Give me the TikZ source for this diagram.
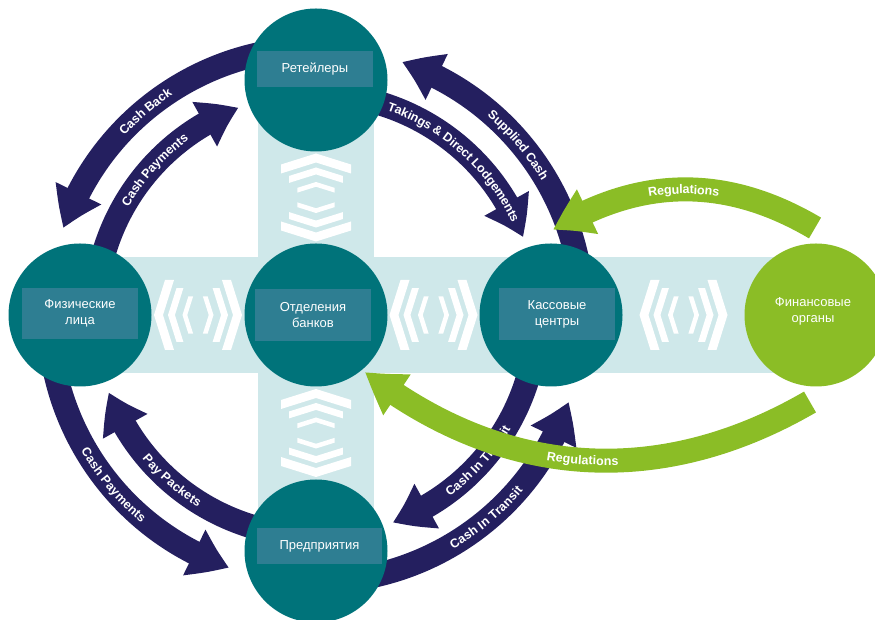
\documentclass[tikz,border=0pt]{standalone}
\usepackage{fontspec}
\setmainfont{Liberation Sans}
\usetikzlibrary{arrows.meta,bending,calc,backgrounds,decorations.text}

\definecolor{hubteal}{HTML}{00737A}
\definecolor{lbltile}{HTML}{2E7E92}
\definecolor{bandblue}{HTML}{CFE8EA}
\definecolor{flownavy}{HTML}{241F5F}
\definecolor{reggreen}{HTML}{8BBD26}

\tikzset{
  hub/.style={circle, fill=hubteal, minimum size=143pt, inner sep=0pt},
  tile/.style={fill=lbltile, text=white, minimum width=116pt, inner sep=0pt,
    align=center, font=\fontsize{13}{16}\selectfont},
  flow/.style={flownavy, line width=24pt, -{Triangle[width=48pt,length=38pt,bend]}},
  reg/.style={reggreen, line width=24pt, -{Triangle[width=46pt,length=40pt,bend]}},
  flowtext/.style={decorate, decoration={text along path, text align=center,
    raise=-4.5pt, text color=white, text={|\bfseries\fontsize{12.5}{14}\selectfont|#1}}},
  chev/.pic={\fill[white] (0,0) -- (-11,35) -- (-20,35) -- (-9,0) -- (-20,-35) -- (-11,-35) -- cycle;}
}

\begin{document}
\begin{tikzpicture}[x=1pt,y=1pt]
  \useasboundingbox (0,0) rectangle (875,620);

  % circles
  \node[hub] (retail) at (316,540) {};
  \node[hub] (persons) at (80,305) {};
  \node[hub] (bank) at (316,305) {};
  \node[hub] (cash) at (551,305) {};
  \node[hub, fill=reggreen] (fin) at (816,305) {};
  \node[hub] (firms) at (316,69) {};

  % labels
  \node[tile, minimum height=36pt] (retaillbl) at ([shift={(-1,11)}]retail.center) {Ретейлеры};
  \node[tile, minimum height=51pt] (personslbl) at ([shift={(0,1.5)}]persons.center) {Физические\\лица};
  \node[tile, minimum height=52pt] (banklbl) at ([shift={(-3,0)}]bank.center) {Отделения\\банков};
  \node[tile, minimum height=52pt] (cashlbl) at ([shift={(6,1)}]cash.center) {Кассовые\\центры};
  \node[tile, minimum height=36pt, minimum width=125pt] (firmslbl) at ([shift={(3.5,5)}]firms.center) {Предприятия};
  \node[text=white, align=center, font=\fontsize{13}{16}\selectfont] (finlbl) at ([shift={(-3,3.5)}]fin.center) {Финансовые\\органы};

  \begin{scope}[on background layer]
    % cross
    \fill[bandblue] ($(persons)+(0,-58)$) rectangle ($(fin)+(0,58)$);
    \fill[bandblue] ($(firms)+(-58,0)$) rectangle ($(retail)+(58,0)$);

    % chevrons
    \coordinate (gap1) at ($(persons)!0.5!(bank)$);
    \coordinate (gap2) at ($(bank)!0.5!(cash)$);
    \coordinate (gap3) at ($(cash)!0.5!(fin)$);
    \coordinate (gap4) at ($(firms)!0.5!(bank)$);
    \coordinate (gap5) at ($(bank)!0.5!(retail)$);
    \foreach \gap/\ang in {gap1/0, gap1/180, gap2/0, gap2/180, gap3/0, gap3/180,
                          gap4/90, gap4/270, gap5/90, gap5/270}
      \foreach \dist/\sc in {44/1, 30/0.77, 15.5/0.53}
        \path (\gap) ++(\ang:\dist) pic[rotate=\ang, scale=\sc] {chev};

    % cash flows
    \draw[flow] ([shift={(bank)}]90:267pt) arc[start angle=90, end angle=161, radius=267pt];
    \draw[flow] ([shift={(bank)}]180:221pt) arc[start angle=180, end angle=110.5, radius=221pt];
    \draw[flow] ([shift={(bank)}]90:221pt) arc[start angle=90, end angle=20.6, radius=221pt];
    \draw[flow] ([shift={(bank)}]0:267pt) arc[start angle=0, end angle=71.2, radius=267pt];
    \draw[flow] ([shift={(bank)}]180:267pt) arc[start angle=180, end angle=251, radius=267pt];
    \draw[flow] ([shift={(bank)}]270:221pt) arc[start angle=270, end angle=200.5, radius=221pt];
    \draw[flow] ([shift={(bank)}]360:221pt) arc[start angle=360, end angle=290.3, radius=221pt];
    \draw[flow] ([shift={(bank)}]270:267pt) arc[start angle=270, end angle=341, radius=267pt];

    \path[flowtext={Cash Back}] ([shift={(bank)}]170:267pt) arc[start angle=170, end angle=90, radius=267pt];
    \path[flowtext={Cash Payments}] ([shift={(bank)}]178:221pt) arc[start angle=178, end angle=98, radius=221pt];
    \path[flowtext={Takings {\&} Direct Lodgements}] ([shift={(bank)}]95:221pt) arc[start angle=95, end angle=1, radius=221pt];
    \path[flowtext={Supplied Cash}] ([shift={(bank)}]80:267pt) arc[start angle=80, end angle=0, radius=267pt];
    \path[flowtext={Cash Payments}] ([shift={(bank)}]180:267pt) arc[start angle=180, end angle=260, radius=267pt];
    \path[flowtext={Pay Packets}] ([shift={(bank)}]189:221pt) arc[start angle=189, end angle=269, radius=221pt];
    \path[flowtext={Cash In Transit}] ([shift={(bank)}]278:221pt) arc[start angle=278, end angle=358, radius=221pt];
    \path[flowtext={Cash In Transit}] ([shift={(bank)}]270:267pt) arc[start angle=270, end angle=350, radius=267pt];

    % regulations
    \coordinate (regtop) at ($(fin)+(-1,87)$);
    \coordinate (regtopend) at ($(cash)+(2,85)$);
    \coordinate (regbot) at ($(fin)+(-6,-87)$);
    \coordinate (regbotend) at ($(bank)+(49,-57)$);
    \draw[reg] (regtop) to[bend right=31] (regtopend);
    \draw[reg] (regbot) to[bend left=34] (regbotend);
    \path[flowtext=Regulations] (regtopend) to[bend left=31] (regtop);
    \path[flowtext=Regulations] (regbotend) to[bend right=34] (regbot);
  \end{scope}
\end{tikzpicture}
\end{document}
